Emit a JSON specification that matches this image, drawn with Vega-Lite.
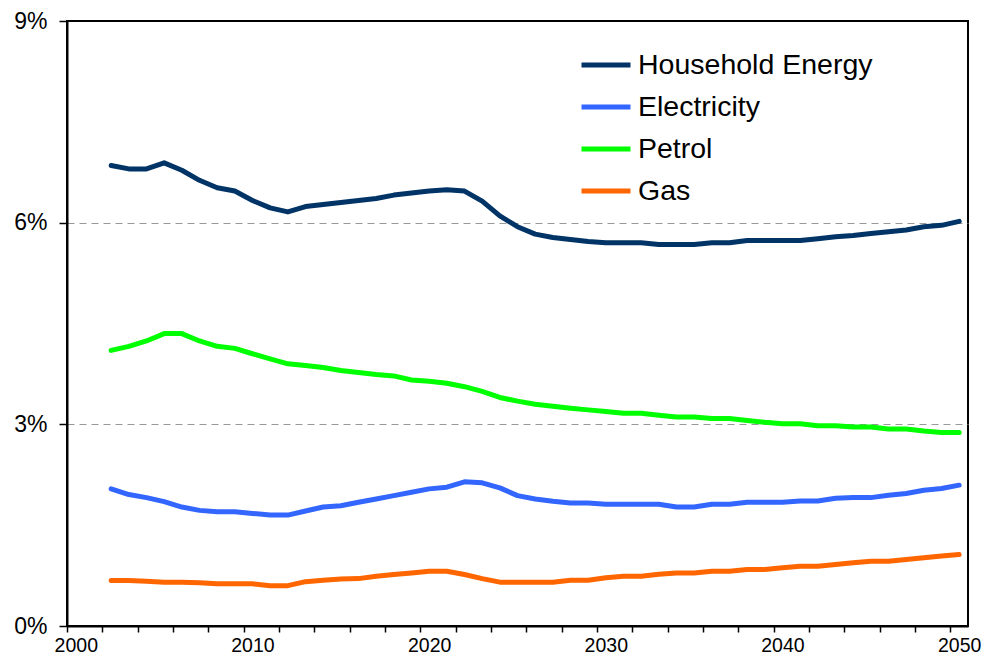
{
  "$schema": "https://vega.github.io/schema/vega-lite/v6.json",
  "autosize": {"type": "none"},
  "padding": {"left": 67, "top": 21, "right": 17, "bottom": 39},
  "width": 901,
  "height": 605,
  "background": "#ffffff",
  "config": {
    "view": {"stroke": "#000000", "strokeWidth": 2},
    "font": "Liberation Sans"
  },
  "datasets": {
    "wide": [
      {"year": 2002, "H": 6.85, "E": 2.04, "P": 4.10, "G": 0.677},
      {"year": 2003, "H": 6.80, "E": 1.955, "P": 4.16, "G": 0.677},
      {"year": 2004, "H": 6.80, "E": 1.91, "P": 4.24, "G": 0.665},
      {"year": 2005, "H": 6.89, "E": 1.85, "P": 4.35, "G": 0.652},
      {"year": 2006, "H": 6.78, "E": 1.77, "P": 4.35, "G": 0.652},
      {"year": 2007, "H": 6.63, "E": 1.72, "P": 4.24, "G": 0.643},
      {"year": 2008, "H": 6.52, "E": 1.70, "P": 4.16, "G": 0.628},
      {"year": 2009, "H": 6.47, "E": 1.70, "P": 4.13, "G": 0.628},
      {"year": 2010, "H": 6.33, "E": 1.675, "P": 4.05, "G": 0.628},
      {"year": 2011, "H": 6.22, "E": 1.65, "P": 3.975, "G": 0.60},
      {"year": 2012, "H": 6.16, "E": 1.65, "P": 3.90, "G": 0.60},
      {"year": 2013, "H": 6.24, "E": 1.71, "P": 3.875, "G": 0.66},
      {"year": 2014, "H": 6.27, "E": 1.77, "P": 3.845, "G": 0.68},
      {"year": 2015, "H": 6.30, "E": 1.79, "P": 3.80, "G": 0.70},
      {"year": 2016, "H": 6.33, "E": 1.84, "P": 3.77, "G": 0.705},
      {"year": 2017, "H": 6.36, "E": 1.89, "P": 3.74, "G": 0.74},
      {"year": 2018, "H": 6.41, "E": 1.94, "P": 3.72, "G": 0.766},
      {"year": 2019, "H": 6.44, "E": 1.99, "P": 3.66, "G": 0.79},
      {"year": 2020, "H": 6.47, "E": 2.04, "P": 3.64, "G": 0.815},
      {"year": 2021, "H": 6.49, "E": 2.065, "P": 3.61, "G": 0.815},
      {"year": 2022, "H": 6.47, "E": 2.145, "P": 3.56, "G": 0.766},
      {"year": 2023, "H": 6.32, "E": 2.13, "P": 3.49, "G": 0.705},
      {"year": 2024, "H": 6.10, "E": 2.055, "P": 3.40, "G": 0.652},
      {"year": 2025, "H": 5.94, "E": 1.94, "P": 3.345, "G": 0.652},
      {"year": 2026, "H": 5.83, "E": 1.89, "P": 3.30, "G": 0.652},
      {"year": 2027, "H": 5.78, "E": 1.857, "P": 3.27, "G": 0.652},
      {"year": 2028, "H": 5.75, "E": 1.83, "P": 3.24, "G": 0.68},
      {"year": 2029, "H": 5.72, "E": 1.83, "P": 3.215, "G": 0.68},
      {"year": 2030, "H": 5.70, "E": 1.81, "P": 3.19, "G": 0.717},
      {"year": 2031, "H": 5.70, "E": 1.81, "P": 3.165, "G": 0.74},
      {"year": 2032, "H": 5.70, "E": 1.81, "P": 3.165, "G": 0.74},
      {"year": 2033, "H": 5.675, "E": 1.81, "P": 3.135, "G": 0.77},
      {"year": 2034, "H": 5.675, "E": 1.77, "P": 3.11, "G": 0.79},
      {"year": 2035, "H": 5.675, "E": 1.77, "P": 3.11, "G": 0.79},
      {"year": 2036, "H": 5.70, "E": 1.81, "P": 3.087, "G": 0.815},
      {"year": 2037, "H": 5.70, "E": 1.81, "P": 3.087, "G": 0.815},
      {"year": 2038, "H": 5.735, "E": 1.84, "P": 3.057, "G": 0.84},
      {"year": 2039, "H": 5.735, "E": 1.84, "P": 3.03, "G": 0.84},
      {"year": 2040, "H": 5.735, "E": 1.84, "P": 3.01, "G": 0.866},
      {"year": 2041, "H": 5.735, "E": 1.86, "P": 3.01, "G": 0.89},
      {"year": 2042, "H": 5.76, "E": 1.86, "P": 2.98, "G": 0.89},
      {"year": 2043, "H": 5.79, "E": 1.90, "P": 2.98, "G": 0.915},
      {"year": 2044, "H": 5.81, "E": 1.91, "P": 2.96, "G": 0.94},
      {"year": 2045, "H": 5.84, "E": 1.91, "P": 2.96, "G": 0.964},
      {"year": 2046, "H": 5.865, "E": 1.945, "P": 2.93, "G": 0.964},
      {"year": 2047, "H": 5.89, "E": 1.97, "P": 2.93, "G": 0.99},
      {"year": 2048, "H": 5.94, "E": 2.02, "P": 2.90, "G": 1.015},
      {"year": 2049, "H": 5.96, "E": 2.045, "P": 2.88, "G": 1.04},
      {"year": 2050, "H": 6.02, "E": 2.095, "P": 2.88, "G": 1.064}
    ],
    "names": [
      {"key": "H", "series": "Household Energy"},
      {"key": "E", "series": "Electricity"},
      {"key": "P", "series": "Petrol"},
      {"key": "G", "series": "Gas"}
    ]
  },
  "data": {"name": "wide"},
  "transform": [
    {"fold": ["H", "E", "P", "G"], "as": ["key", "share"]},
    {"lookup": "key", "from": {"data": {"name": "names"}, "key": "key", "fields": ["series"]}}
  ],
  "mark": {"type": "line", "strokeJoin": "round", "strokeCap": "round", "clip": false},
  "encoding": {
    "x": {
      "field": "year",
      "type": "quantitative",
      "scale": {"domain": [1999.5, 2050.5], "nice": false, "zero": false},
      "axis": {
        "title": null,
        "values": [1999.5, 2001.5, 2003.5, 2005.5, 2007.5, 2009.5, 2011.5, 2013.5, 2015.5, 2017.5, 2019.5, 2021.5, 2023.5, 2025.5, 2027.5, 2029.5, 2031.5, 2033.5, 2035.5, 2037.5, 2039.5, 2041.5, 2043.5, 2045.5, 2047.5, 2049.5],
        "labelExpr": "(datum.value + 0.5) % 10 == 0 ? format(datum.value + 0.5, 'd') : ''",
        "labelOffset": 8.8,
        "labelFlush": false,
        "labelOverlap": false,
        "labelFontSize": 19.5,
        "labelColor": "#000000",
        "labelPadding": 4,
        "tickSize": 6,
        "tickColor": "#000000",
        "tickWidth": 1.5,
        "domainColor": "#000000",
        "domainWidth": 2,
        "grid": false
      }
    },
    "y": {
      "field": "share",
      "type": "quantitative",
      "scale": {"domain": [0, 9], "nice": false},
      "axis": {
        "title": null,
        "values": [0, 3, 6, 9],
        "labelExpr": "datum.value + '%'",
        "labelFontSize": 23,
        "labelColor": "#000000",
        "labelPadding": 12,
        "tickSize": 8,
        "tickColor": "#000000",
        "tickWidth": 1.5,
        "domainColor": "#000000",
        "domainWidth": 2,
        "grid": true,
        "gridColor": "#999999",
        "gridDash": [7, 5],
        "gridWidth": 1,
        "gridOpacity": {"condition": {"test": "datum.value == 0 || datum.value == 9", "value": 0}, "value": 1}
      }
    },
    "color": {
      "field": "series",
      "type": "nominal",
      "scale": {
        "domain": ["Household Energy", "Electricity", "Petrol", "Gas"],
        "range": ["#003366", "#3366FF", "#00FF00", "#FF6600"]
      },
      "legend": {
        "title": null,
        "orient": "none",
        "legendX": 512,
        "legendY": 17,
        "symbolType": "stroke",
        "symbolSize": 2401,
        "labelFontSize": 28.5,
        "labelLimit": 0,
        "labelColor": "#000000",
        "labelOffset": 5,
        "rowPadding": -10.5
      }
    },
    "strokeWidth": {
      "field": "series",
      "type": "nominal",
      "scale": {
        "domain": ["Household Energy", "Electricity", "Petrol", "Gas"],
        "range": [5, 5, 3.5, 5]
      },
      "legend": {
        "title": null,
        "orient": "none",
        "legendX": 512,
        "legendY": 17,
        "symbolType": "stroke",
        "symbolSize": 2401,
        "labelFontSize": 28.5,
        "labelLimit": 0,
        "labelColor": "#000000",
        "labelOffset": 5,
        "rowPadding": -10.5
      }
    }
  }
}
